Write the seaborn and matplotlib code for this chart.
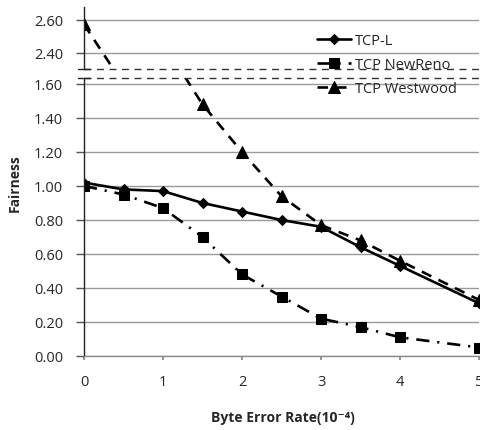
import matplotlib
matplotlib.use("Agg")
import matplotlib.pyplot as plt
import seaborn as sns
import pandas as pd

# ---- data ----
x_l = [0, 0.5, 1, 1.5, 2, 2.5, 3, 3.5, 4, 5]
tcp_l = [1.02, 0.98, 0.97, 0.90, 0.85, 0.80, 0.76, 0.64, 0.53, 0.31]
x_n = [0, 0.5, 1, 1.5, 2, 2.5, 3, 3.5, 4, 5]
tcp_newreno = [1.00, 0.95, 0.87, 0.70, 0.48, 0.35, 0.22, 0.17, 0.11, 0.05]
x_w = [0, 1.5, 2, 2.5, 3, 3.5, 4, 5]
tcp_westwood = [2.57, 1.48, 1.20, 0.94, 0.77, 0.68, 0.56, 0.33]
series_names = ["TCP-L", "TCP NewReno", "TCP Westwood"]
x_ticks = [0, 1, 2, 3, 4, 5]
y_ticks_low = [0.0, 0.2, 0.4, 0.6, 0.8, 1.0, 1.2, 1.4, 1.6]
y_ticks_high = [2.4, 2.6]

sns.set_theme(style="white")
plt.rcParams["font.family"] = ["Open Sans", "DejaVu Sans"]

W, H = 481, 431
fig = plt.figure(figsize=(W / 100, H / 100), dpi=100)

def fx(px):
    return px / W

def fy(py):
    return 1 - py / H

left, right = 84, 479
ax_lo = fig.add_axes([fx(left), fy(357), fx(right - left), (357 - 79) / H])
ax_hi = fig.add_axes([fx(left), fy(70), fx(right - left), (70 - 8) / H], sharex=ax_lo)

styles = [
    dict(x=x_l, y=tcp_l, marker="D", ms=5.5, dashes=None),
    dict(x=x_n, y=tcp_newreno, marker="s", ms=7, dashes=(5, 3, 0.8, 3)),
    dict(x=x_w, y=tcp_westwood, marker="^", ms=8, dashes=(4, 3)),
]

for ax in (ax_lo, ax_hi):
    for name, st in zip(series_names, styles):
        df = pd.DataFrame({"x": st["x"], "y": st["y"]})
        kw = dict(color="black", lw=1.9, marker=st["marker"], markersize=st["ms"],
                  markeredgecolor="black", markerfacecolor="black", label=name)
        if st["dashes"] is not None:
            kw["dashes"] = st["dashes"]
        sns.lineplot(data=df, x="x", y="y", ax=ax, legend=False, **kw)
    ax.set_xlim(0, 5)
    ax.set_xlabel("")
    ax.set_ylabel("")
    ax.grid(False)
    for s in ("top", "right", "bottom"):
        ax.spines[s].set_visible(False)
    ax.spines["left"].set_color("#222222")
    ax.spines["left"].set_linewidth(1.0)
    ax.tick_params(axis="y", direction="out", length=6, width=1, color="#555555",
                   pad=9, labelsize=10.5, left=True)

ax_lo.set_ylim(0, (357 - 79) / 170)
ax_hi.set_ylim(2.30, 2.30 + (70 - 8) / 165)

ax_lo.set_yticks(y_ticks_low)
ax_lo.set_yticklabels([f"{v:.2f}" for v in y_ticks_low])
ax_hi.set_yticks(y_ticks_high)
ax_hi.set_yticklabels([f"{v:.2f}" for v in y_ticks_high])

for ax, ticks in ((ax_lo, y_ticks_low), (ax_hi, y_ticks_high)):
    for v in ticks:
        ax.axhline(v, color="#9a9a9a", lw=1.0, zorder=0)

# bottom x axis
ax_lo.spines["bottom"].set_visible(True)
ax_lo.spines["bottom"].set_color("#8a8a8a")
ax_lo.spines["bottom"].set_linewidth(1.0)
ax_lo.set_xticks(x_ticks)
ax_lo.set_xticklabels([str(v) for v in x_ticks])
ax_lo.tick_params(axis="x", direction="out", length=3, color="#888888", pad=10,
                  labelsize=10.5, bottom=True)
ax_hi.tick_params(axis="x", bottom=False, labelbottom=False)

# break lines
ax_hi.plot([0, 1.003], [0, 0], transform=ax_hi.transAxes, color="#333333", lw=1.0,
           linestyle=(0, (5, 4)), clip_on=False)
ax_lo.plot([0, 1.003], [1, 1], transform=ax_lo.transAxes, color="#333333", lw=1.0,
           linestyle=(0, (5, 4)), clip_on=False)
ax_hi.plot([-0.015, 0.015], [0, 0], transform=ax_hi.transAxes, color="#222222", lw=1.0,
           clip_on=False)
ax_lo.plot([-0.015, 0.015], [1, 1], transform=ax_lo.transAxes, color="#222222", lw=1.0,
           clip_on=False)

# labels
fig.text(fx(15), fy(183), "Fairness", rotation=90, ha="center", va="center",
         fontsize=10, fontweight="bold")
fig.text(fx(283), fy(418), "Byte Error Rate(10\u207b\u2074)", ha="center", va="center",
         fontsize=10, fontweight="bold")

# legend
handles, labels = ax_lo.get_legend_handles_labels()
fig.legend(handles[:3], labels[:3], loc="upper left",
           bbox_to_anchor=(fx(310), fy(27)), frameon=False, fontsize=10.5,
           handlelength=2.3, handletextpad=0.3, labelspacing=0.6, borderpad=0)

fig.savefig("out.png", dpi=100)
